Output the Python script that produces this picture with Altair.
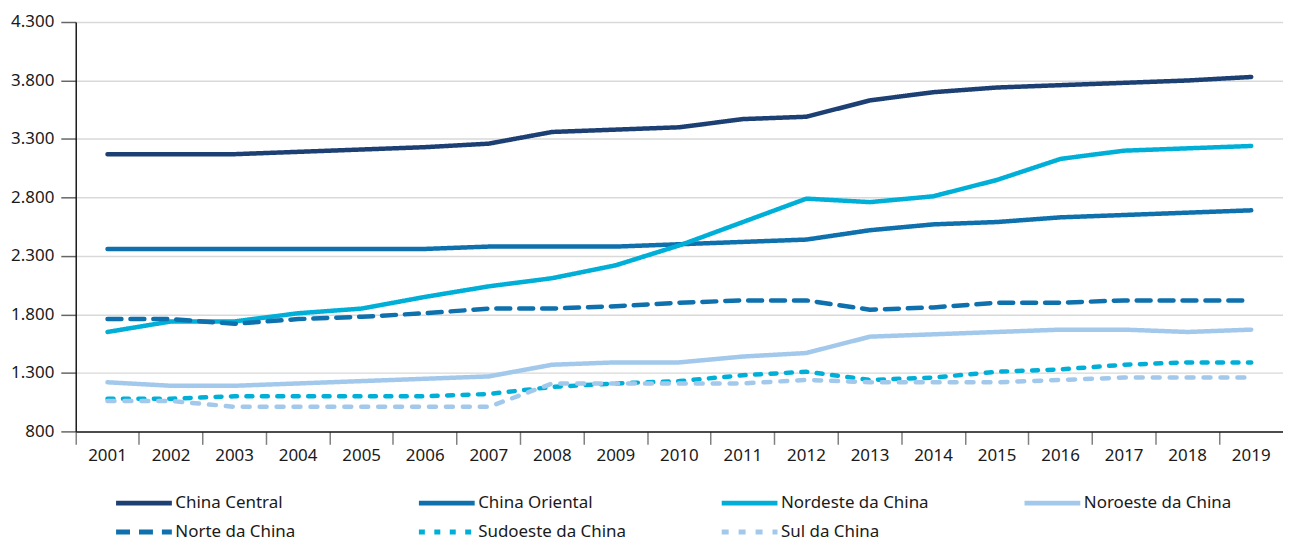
import altair as alt
import pandas as pd

years = [str(y) for y in range(2001, 2020)]
regions = ["China Central", "China Oriental", "Nordeste da China", "Noroeste da China",
           "Norte da China", "Sudoeste da China", "Sul da China"]

china_central = [3170, 3170, 3170, 3190, 3210, 3230, 3260, 3360, 3380, 3400,
                 3470, 3490, 3630, 3700, 3740, 3760, 3780, 3800, 3830]
china_oriental = [2360, 2360, 2360, 2360, 2360, 2360, 2380, 2380, 2380, 2400,
                  2420, 2440, 2520, 2570, 2590, 2630, 2650, 2670, 2690]
nordeste = [1650, 1740, 1740, 1810, 1850, 1950, 2040, 2110, 2220, 2390,
            2590, 2790, 2760, 2810, 2950, 3130, 3200, 3220, 3240]
noroeste = [1220, 1190, 1190, 1210, 1230, 1250, 1270, 1370, 1390, 1390,
            1440, 1470, 1610, 1630, 1650, 1670, 1670, 1650, 1670]
norte = [1760, 1760, 1720, 1760, 1780, 1810, 1850, 1850, 1870, 1900,
         1920, 1920, 1840, 1860, 1900, 1900, 1920, 1920, 1920]
sudoeste = [1080, 1080, 1100, 1100, 1100, 1100, 1120, 1180, 1210, 1230,
            1280, 1310, 1240, 1260, 1310, 1330, 1370, 1390, 1390]
sul = [1060, 1060, 1010, 1010, 1010, 1010, 1010, 1210, 1210, 1210,
       1210, 1240, 1220, 1220, 1220, 1240, 1260, 1260, 1260]

series = [china_central, china_oriental, nordeste, noroeste, norte, sudoeste, sul]
y_ticks = [800, 1300, 1800, 2300, 2800, 3300, 3800, 4300]

colors = ["#1c3f74", "#0e70ac", "#00afd7", "#a2c9eb", "#0e70ac", "#00afd7", "#a2c9eb"]
dashes = [[1, 0], [1, 0], [1, 0], [1, 0], [14, 9], [6, 9.5], [7, 10]]

rows = []
for name, vals in zip(regions, series):
    for yr, v in zip(years, vals):
        rows.append({"region": name, "year": yr, "value": v})
df = pd.DataFrame(rows)

FONT = "Noto Sans"

legend_kw = dict(
    title=None, orient="none", legendX=38, legendY=473, columns=4, direction="horizontal",
    symbolType="stroke", symbolSize=3136, symbolStrokeWidth=5, clipHeight=20,
    labelFontSize=17, labelFont=FONT, labelColor="#1a1a1a", labelOffset=1,
    columnPadding=93, rowPadding=9, gridAlign="all", labelLimit=300,
)

chart = alt.Chart(df).mark_line(strokeWidth=4.5, strokeCap="round", strokeJoin="round").encode(
    x=alt.X("year:N", sort=years, bandPosition=0.5,
            scale=alt.Scale(type="band", paddingInner=0, paddingOuter=0),
            axis=alt.Axis(title=None, labelAngle=0, bandPosition=0,
                          tickSize=13, tickColor="#808080", tickWidth=1.5,
                          domainColor="#1a1a1a", domainWidth=1.5,
                          labelFontSize=17, labelFont=FONT, labelColor="#1a1a1a",
                          labelPadding=3, grid=False)),
    y=alt.Y("value:Q",
            scale=alt.Scale(domain=[800, 4300], nice=False, zero=False),
            axis=alt.Axis(title=None, values=y_ticks,
                          labelExpr="replace(format(datum.value, ','), ',', '.')",
                          tickSize=15, tickColor="#666666", tickWidth=1.5,
                          domainColor="#1a1a1a", domainWidth=1.5,
                          labelFontSize=17, labelFont=FONT, labelColor="#1a1a1a",
                          labelPadding=7, grid=True, gridColor="#d9d9d9", gridWidth=1.5)),
    color=alt.Color("region:N", sort=regions,
                    scale=alt.Scale(domain=regions, range=colors), legend=alt.Legend(**legend_kw)),
    strokeDash=alt.StrokeDash("region:N", sort=regions,
                              scale=alt.Scale(domain=regions, range=dashes), legend=alt.Legend(**legend_kw)),
).properties(
    width=1212, height=411,
    autosize=alt.AutoSizeParams(type="none"),
    padding={"left": 68, "top": 13, "right": 0, "bottom": 116},
).configure_view(stroke=None)

chart.save("out.html", embed_options={"renderer": "svg", "actions": False})
